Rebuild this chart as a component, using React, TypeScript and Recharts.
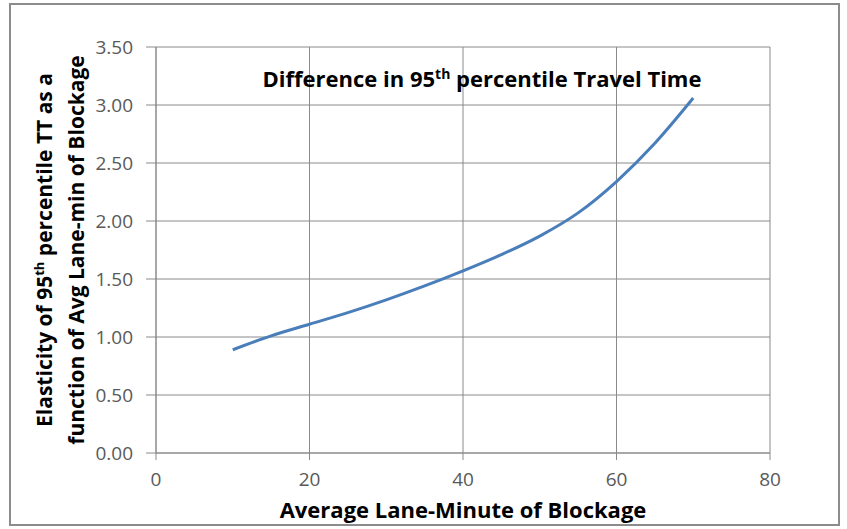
import React from "react";
import { LineChart, Line, XAxis, YAxis, CartesianGrid, Customized } from "recharts";

const minutes = [10, 15, 20, 25, 30, 35, 40, 45, 50, 55, 60, 65, 70];
const elasticity = [0.89, 1.01, 1.11, 1.21, 1.32, 1.44, 1.57, 1.71, 1.87, 2.07, 2.34, 2.67, 3.06];
const xTicks = [0, 20, 40, 60, 80];
const yTicks = [0, 0.5, 1, 1.5, 2, 2.5, 3, 3.5];

const data = minutes.map((m, i) => ({ m, v: elasticity[i] }));

const FONT = "'Open Sans', 'Noto Sans', sans-serif";

const Texts = () => (
  <g fontFamily={FONT} fill="#000" fontWeight="bold">
    <text x={482} y={87} textAnchor="middle" fontSize={22}>
      Difference in 95
      <tspan fontSize={14} dy={-8}>th</tspan>
      <tspan dy={8}> percentile Travel Time</tspan>
    </text>
    <text x={463} y={518} textAnchor="middle" fontSize={22}>
      Average Lane-Minute of Blockage
    </text>
    <text transform="translate(52,250) rotate(-90)" textAnchor="middle" fontSize={21}>
      Elasticity of 95
      <tspan fontSize={13} dy={-8}>th</tspan>
      <tspan dy={8}> percentile TT as a</tspan>
    </text>
    <text transform="translate(84,250) rotate(-90)" textAnchor="middle" fontSize={21}>
      function of Avg Lane-min of Blockage
    </text>
  </g>
);

export default function App() {
  return (
    <div style={{ position: "absolute", left: 0, top: 0, width: 847, height: 529, background: "#fff" }}>
      <div
        style={{
          position: "absolute",
          left: 9,
          top: 3,
          width: 827,
          height: 519,
          border: "2px solid #8c8c8c",
        }}
      />
      <div style={{ position: "absolute", left: 0, top: 0 }}>
        <LineChart width={847} height={529} data={data} margin={{ top: 47, right: 77, bottom: 46, left: 96 }}>
          <CartesianGrid stroke="#8a8a8a" strokeWidth={1} />
          <XAxis
            dataKey="m"
            type="number"
            domain={[0, 80]}
            ticks={xTicks}
            height={30}
            stroke="#8a8a8a"
            tickSize={7}
            tickMargin={13}
            tick={{ fill: "#595959", fontSize: 19, fontFamily: FONT }}
          />
          <YAxis
            type="number"
            domain={[0, 3.5]}
            ticks={yTicks}
            width={60}
            stroke="#8a8a8a"
            tickSize={10}
            tickMargin={13}
            tickFormatter={(v: number) => v.toFixed(2)}
            tick={{ fill: "#595959", fontSize: 19, fontFamily: FONT }}
          />
          <Line
            dataKey="v"
            type="monotone"
            stroke="#4a7ebb"
            strokeWidth={3}
            dot={false}
            isAnimationActive={false}
          />
          <Customized component={Texts} />
        </LineChart>
      </div>
    </div>
  );
}
